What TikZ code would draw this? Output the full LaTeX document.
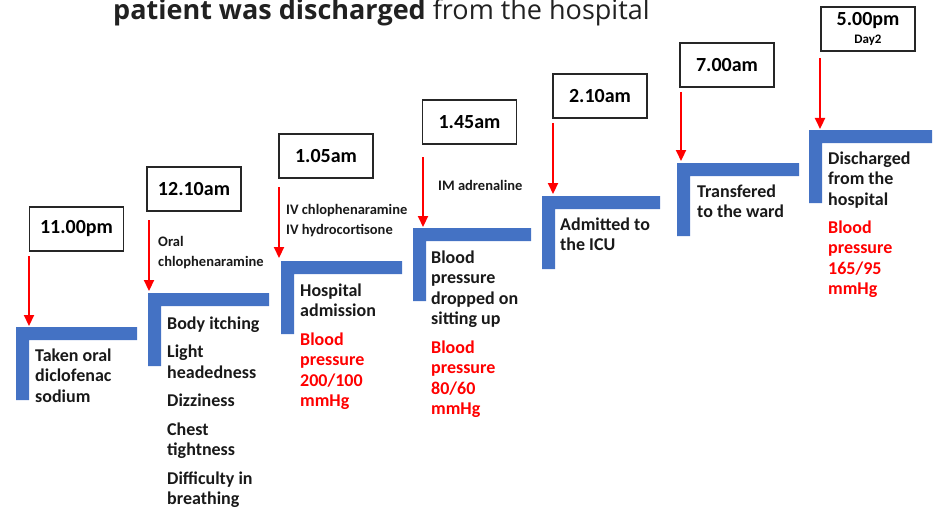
\documentclass[tikz,border=0pt]{standalone}
\usepackage{fontspec}
\setmainfont{Carlito}
\newfontfamily\headfont{Open Sans}
\usetikzlibrary{arrows.meta,positioning}
\definecolor{barblue}{HTML}{4472C4}
\definecolor{bpred}{HTML}{FF0000}
\tikzset{
  timebox/.style={draw=black!85, line width=1.8pt, minimum width=94pt, minimum height=44pt, inner sep=0pt, font=\fontsize{20}{22}\selectfont\bfseries},
  event/.style={anchor=base west, align=left, inner sep=0pt, font=\fontsize{18}{20.5}\selectfont\bfseries, text=black!90},
  bptext/.style={event, text=bpred},
  drug/.style={anchor=base west, align=left, inner sep=0pt, font=\fontsize{14.5}{20}\selectfont\bfseries, text=black!90},
  redarrow/.style={draw=bpred, line width=2.2pt, -{Triangle[length=11pt,width=10pt]}},
}
% blue step: corner, width
\newcommand{\stepbar}[2]{\fill[barblue] (#1) -- ++(#2,0) -- ++(0,13) -- ++(-#2+13,0) -- ++(0,60) -- ++(-13,0) -- cycle;}

\begin{document}
\begin{tikzpicture}[x=1pt,y=-1pt]
	\useasboundingbox (0,0) rectangle (936,508);
	\node[anchor=base west, inner sep=0pt, text=black!87, font=\headfont\fontsize{27}{30}\selectfont] (title) at (113,20) {{\bfseries patient was discharged} from the hospital};

	% time boxes
	\node[timebox] (t1) at (76.5,229) {11.00pm};
	\node[timebox] (t2) at (194,189) {12.10am};
	\node[timebox] (t3) at (326,156) {1.05am};
	\node[timebox] (t4) at (469.5,122) {1.45am};
	\node[timebox] (t5) at (600,96) {2.10am};
	\node[timebox] (t6) at (727,65) {7.00am};
	\node[timebox, align=center] (t7) at (868,29) {5.00pm\\[-4pt]{\fontsize{13}{14}\selectfont Day2}};

	% steps
	\coordinate (L1) at (16,327);
	\coordinate (L2) at (148,293);
	\coordinate (L3) at (281,261);
	\coordinate (L4) at (413,228);
	\coordinate (L5) at (542,196);
	\coordinate (L6) at (677,163);
	\coordinate (L7) at (809,130);
	\stepbar{L1}{121}
	\stepbar{L2}{121}
	\stepbar{L3}{121}
	\stepbar{L4}{118}
	\stepbar{L5}{118}
	\stepbar{L6}{122}
	\stepbar{L7}{123}

	% arrows
	\coordinate (a1) at (29,256);  \coordinate (b1) at (29,326);
	\coordinate (a2) at (149,220); \coordinate (b2) at (149,291);
	\coordinate (a3) at (279,187); \coordinate (b3) at (279,258);
	\coordinate (a4) at (423,157); \coordinate (b4) at (423,227);
	\coordinate (a5) at (553,123); \coordinate (b5) at (553,194);
	\coordinate (a6) at (681,92);  \coordinate (b6) at (681,161);
	\coordinate (a7) at (820,58);  \coordinate (b7) at (820,129);
	\draw[redarrow] (a1) -- (b1);
	\draw[redarrow] (a2) -- (b2);
	\draw[redarrow] (a3) -- (b3);
	\draw[redarrow] (a4) -- (b4);
	\draw[redarrow] (a5) -- (b5);
	\draw[redarrow] (a6) -- (b6);
	\draw[redarrow] (a7) -- (b7);

	% drugs (base = last line)
	\node[drug] (d2) at (158,266) {Oral\\chlophenaramine};
	\node[drug] (d3) at (286,234) {IV chlophenaramine\\IV hydrocortisone};
	\node[drug] (d4) at (438,190) {IM adrenaline};

	% events (base = last line)
	\node[event] (e1) at (35,402) {Taken oral\\diclofenac\\sodium};
	\node[event] (e2) at (167,504.5) {Body itching\\[8pt]Light\\headedness\\[8pt]Dizziness\\[8pt]Chest\\tightness\\[8pt]Difficulty in\\breathing};
	\node[event] (e3) at (300,316.5) {Hospital\\admission};
	\node[bptext] (p3) at (300,406.5) {Blood\\pressure\\200/100\\mmHg};
	\node[event] (e4) at (431,324.5) {Blood\\pressure\\dropped on\\sitting up};
	\node[bptext] (p4) at (431,414.5) {Blood\\pressure\\80/60\\mmHg};
	\node[event] (e5) at (560,250.5) {Admitted to\\the ICU};
	\node[event] (e6) at (697,217.5) {Transfered\\to the ward};
	\node[event] (e7) at (828,205) {Discharged\\from the\\hospital};
	\node[bptext] (p7) at (828,294.5) {Blood\\pressure\\165/95\\mmHg};
\end{tikzpicture}
\end{document}
